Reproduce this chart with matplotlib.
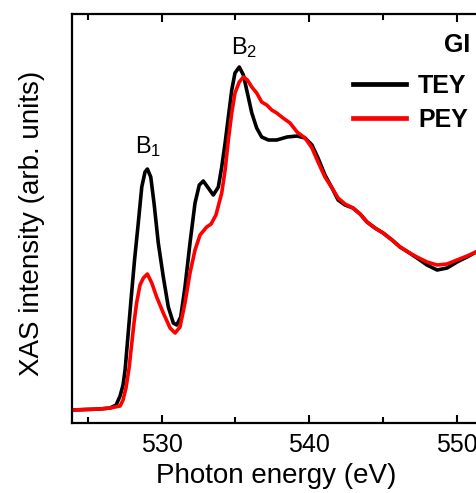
import matplotlib
matplotlib.use('Agg')
import matplotlib.pyplot as plt
from matplotlib.ticker import MultipleLocator

plt.rcParams['font.family'] = ['Liberation Sans', 'DejaVu Sans']
plt.rcParams['mathtext.fontset'] = 'custom'
plt.rcParams['mathtext.rm'] = 'Liberation Sans'
plt.rcParams['mathtext.it'] = 'Liberation Sans:italic'

# TEY 曲线 (光子能量 eV, 强度 arb. units)
tey_energy = [523.93, 525.83, 526.51, 526.92, 527.19, 527.39, 527.53, 527.73, 527.93, 528.17,
              528.41, 528.66, 528.88, 529.04, 529.27, 529.49, 529.78, 530.12, 530.46, 530.80,
              531.03, 531.30, 531.59, 531.93, 532.27, 532.56, 532.83, 533.17, 533.51, 533.85,
              534.08, 534.31, 534.53, 534.76, 534.98, 535.27, 535.55, 535.82, 536.12, 536.45,
              536.79, 537.24, 537.81, 538.51, 539.19, 539.73, 540.20, 540.61, 541.08, 541.56,
              541.97, 542.44, 542.98, 543.46, 543.93, 544.47, 545.02, 545.63, 546.17, 546.71,
              547.32, 548.00, 548.68, 549.36, 550.03, 550.71, 551.32, 553.00, 555.00]
tey_signal = [13, 14, 15, 18, 27, 38, 53, 88, 123, 163,
              198, 236, 251, 254, 246, 220, 180, 146, 116, 100,
              98, 106, 136, 180, 220, 238, 242, 235, 228, 236,
              256, 280, 306, 333, 350, 356, 348, 330, 310, 295,
              286, 283, 283, 286, 287, 285, 278, 265, 248, 235,
              223, 218, 215, 209, 201, 195, 190, 183, 176, 171,
              165, 158, 153, 155, 161, 166, 171, 180, 188]

# PEY 曲线
pey_energy = [523.93, 525.83, 526.51, 527.19, 527.39, 527.59, 527.80, 527.97, 528.14, 528.31,
              528.54, 528.77, 529.04, 529.34, 529.67, 530.12, 530.58, 530.92, 531.25, 531.59,
              531.93, 532.27, 532.61, 533.06, 533.36, 533.69, 534.08, 534.31, 534.53, 534.76,
              534.98, 535.27, 535.55, 535.82, 536.12, 536.45, 536.79, 537.13, 537.47, 537.81,
              538.24, 538.71, 539.19, 539.73, 540.20, 540.61, 541.08, 541.56, 541.97, 542.44,
              542.98, 543.46, 543.93, 544.47, 545.02, 545.63, 546.17, 546.71, 547.32, 548.00,
              548.68, 549.36, 550.03, 550.71, 551.32, 553.00, 555.00]
pey_signal = [13, 14, 15, 17, 23, 35, 55, 78, 101, 120,
              138, 145, 149, 140, 126, 110, 95, 90, 96, 120,
              150, 173, 188, 196, 199, 208, 230, 253, 283, 310,
              330, 341, 346, 343, 336, 330, 321, 318, 313, 310,
              305, 300, 291, 285, 275, 261, 246, 235, 225, 219,
              215, 209, 201, 195, 190, 183, 176, 171, 166, 161,
              158, 159, 163, 167, 171, 180, 188]

series_labels = ['TEY', 'PEY']
series_colors = ['black', '#ff0000']
peak_labels = ['B$_1$', 'B$_2$']
peak_pos = [(529.08, 270), (535.6, 369)]

W, H = 476, 493
fig = plt.figure(figsize=(W / 100, H / 100), dpi=100)
x0, x1 = 523.93, 556.0
px_per_ev = 14.75
ax_w = (x1 - x0) * px_per_ev
ax = fig.add_axes([72 / W, (H - 423) / H, ax_w / W, 409 / H])

ax.plot(tey_energy, tey_signal, color=series_colors[0], lw=2.6, label=series_labels[0],
        solid_joinstyle='round')
ax.plot(pey_energy, pey_signal, color=series_colors[1], lw=2.6, label=series_labels[1],
        solid_joinstyle='round')

ax.set_xlim(x0, x1)
ax.set_ylim(0, 409)
ax.xaxis.set_major_locator(MultipleLocator(10))
ax.xaxis.set_minor_locator(MultipleLocator(5))
ax.set_yticks([])
ax.tick_params(axis='x', which='both', direction='in', top=True, width=1.5, labelsize=18, pad=7)
ax.tick_params(axis='x', which='major', length=6)
ax.tick_params(axis='x', which='minor', length=4.5)
for s in ax.spines.values():
    s.set_linewidth(1.6)

ax.set_xlabel('Photon energy (eV)', fontsize=20)
ax.xaxis.set_label_coords((276.5 - 72) / ax_w, -40 / 409)
ax.set_ylabel('XAS intensity (arb. units)', fontsize=20)
ax.yaxis.set_label_coords(-27 / ax_w, 0.488)

for lab, (px, py) in zip(peak_labels, peak_pos):
    ax.text(px, py, lab, fontsize=17, ha='center', va='baseline')

fig.text(470 / W, 1 - 45 / H, 'GI', fontsize=18, fontweight='bold', ha='right', va='center')

leg = ax.legend(loc='upper left', bbox_to_anchor=(353 / W, 1 - 74 / H), bbox_transform=fig.transFigure,
                frameon=False, borderpad=0, borderaxespad=0, handlelength=2.1, handletextpad=0.5,
                labelspacing=0.4, prop={'size': 18, 'weight': 'bold'})
for h in leg.get_lines():
    h.set_linewidth(3.4)

fig.savefig('out.png', dpi=100)
